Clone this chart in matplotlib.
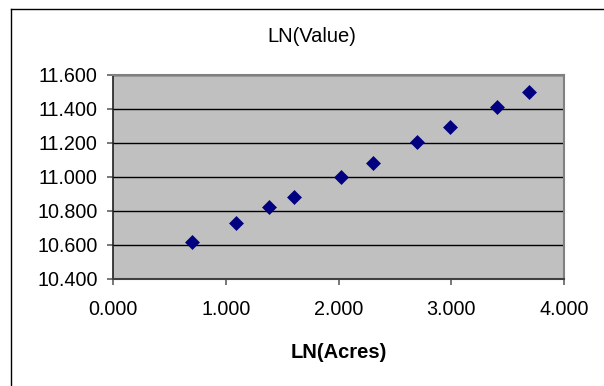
import matplotlib
matplotlib.use("Agg")
import matplotlib.pyplot as plt
from matplotlib.lines import Line2D

# --- Data ---
ln_acres = [0.698, 1.091, 1.387, 1.605, 2.019, 2.309, 2.699, 2.992, 3.403, 3.693]
ln_value = [10.616, 10.729, 10.822, 10.880, 11.002, 11.080, 11.204, 11.296, 11.410, 11.500]
x_ticks = [0.0, 1.0, 2.0, 3.0, 4.0]
y_ticks = [10.4, 10.6, 10.8, 11.0, 11.2, 11.4, 11.6]
TITLE = "LN(Value)"
X_LABEL = "LN(Acres)"

W, H = 604, 386
plt.rcParams['font.family'] = ['Liberation Sans', 'DejaVu Sans']

fig = plt.figure(figsize=(W / 100, H / 100), dpi=100)
fig.patch.set_facecolor("white")

# plot area in pixel terms: left 113, top 75, right 564, bottom 279
ax = fig.add_axes([113 / W, 1 - 279 / H, (564 - 113) / W, (279 - 75) / H])
ax.set_facecolor("#c0c0c0")

ax.scatter(ln_acres, ln_value, marker="D", s=7.6 ** 2, color="#000080",
           linewidths=0, zorder=3)

ax.set_xlim(x_ticks[0], x_ticks[-1])
ax.set_ylim(y_ticks[0], y_ticks[-1])
ax.set_xticks(x_ticks)
ax.set_yticks(y_ticks)
ax.set_xticklabels([f"{v:.3f}" for v in x_ticks])
ax.set_yticklabels([f"{v:.3f}" for v in y_ticks])

ax.yaxis.grid(True, color="black", linewidth=1.0)
ax.set_axisbelow(True)

for side in ("top", "right"):
    ax.spines[side].set_color("#808080")
    ax.spines[side].set_linewidth(1.5)
ax.spines["left"].set_color("#202020")
ax.spines["bottom"].set_color("#404040")
ax.spines["left"].set_linewidth(1.2)
ax.spines["bottom"].set_linewidth(1.5)

ax.tick_params(axis="both", direction="out", length=4, width=1.2,
               color="#606060", labelsize=14.2, labelcolor="black")
ax.tick_params(axis="y", pad=7)
ax.tick_params(axis="x", pad=11)

fig.text(312 / W, 1 - 37 / H, TITLE, ha="center", va="center", fontsize=14.5)
fig.text(339 / W, 1 - 352 / H, X_LABEL, ha="center", va="center",
         fontsize=14.5, fontweight="bold")

# chart-area frame (only top and left edges fall inside the image)
fig.add_artist(Line2D([11 / W, 1.0], [1 - 9 / H, 1 - 9 / H],
                      transform=fig.transFigure, color="black", linewidth=1.0))
fig.add_artist(Line2D([11 / W, 11 / W], [0.0, 1 - 9 / H],
                      transform=fig.transFigure, color="black", linewidth=1.0))

fig.savefig("out.png", dpi=100)
